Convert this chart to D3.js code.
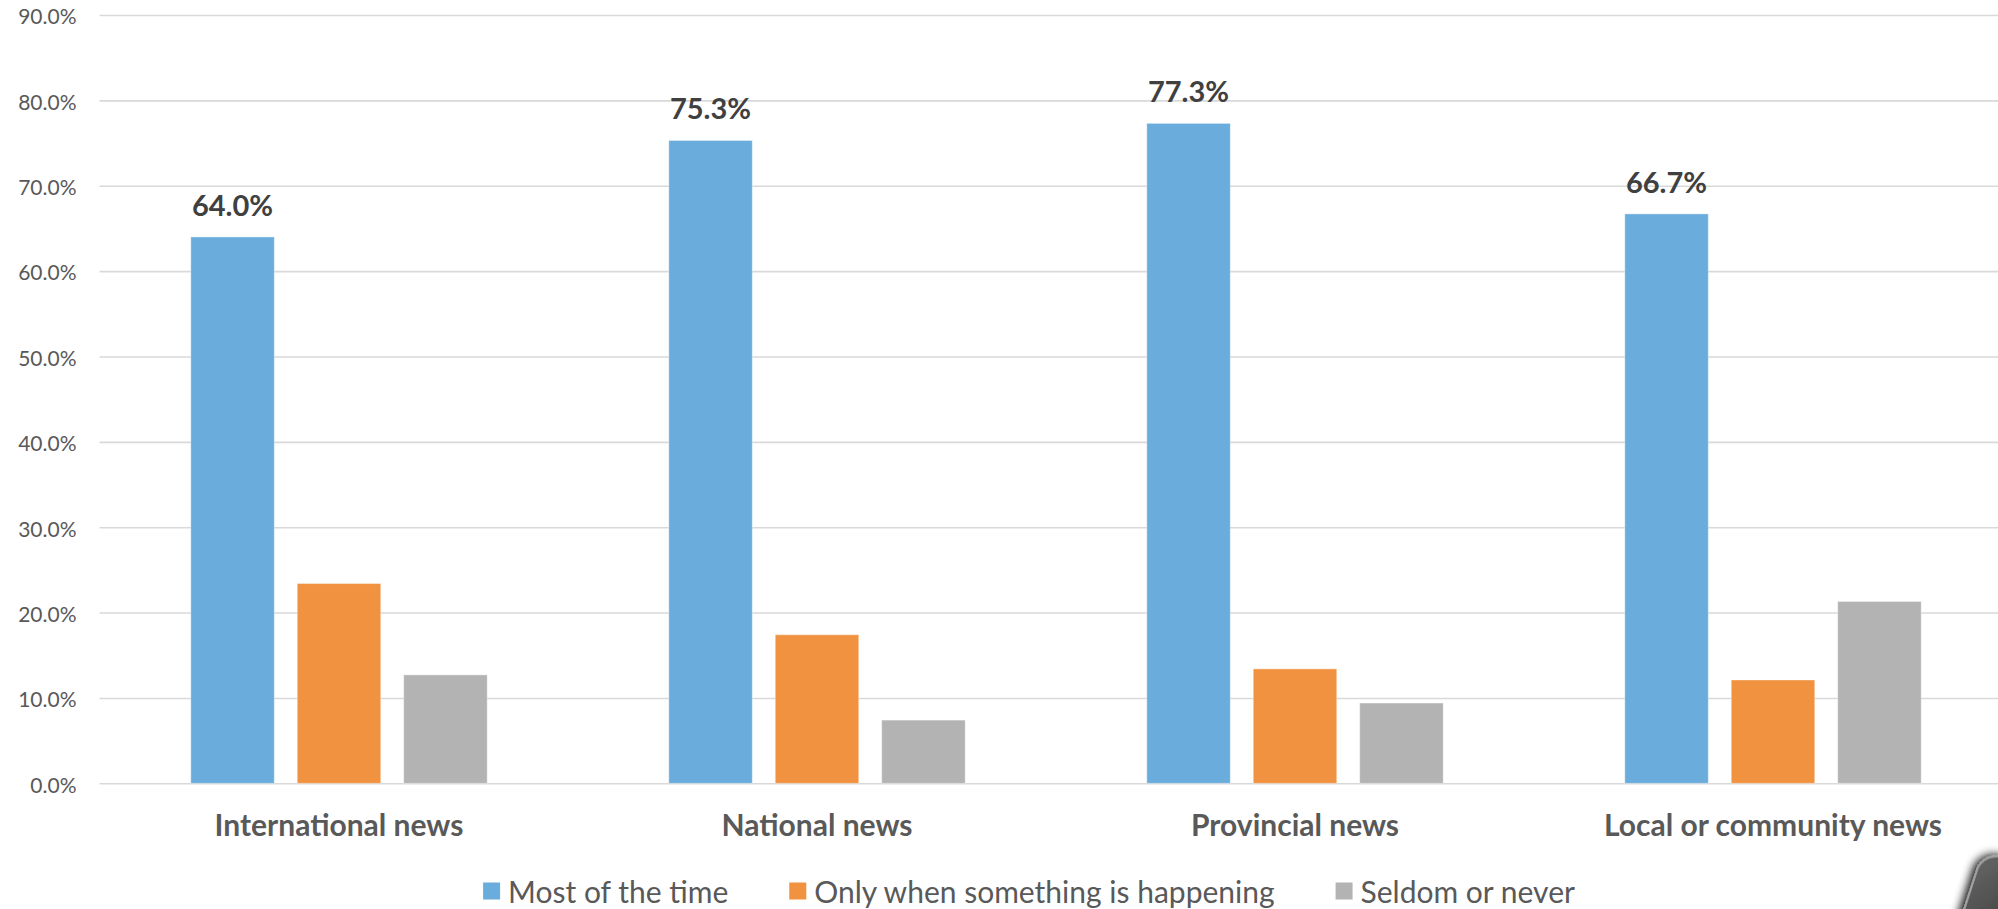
<!DOCTYPE html>
<html>
<head>
<meta charset="utf-8">
<script src="https://cdn.jsdelivr.net/npm/d3@7"></script>
<style>
  html, body { margin: 0; padding: 0; background: #ffffff; overflow: hidden; }
  svg { display: block; }
</style>
</head>
<body>
<svg id="chart" width="1998" height="909"></svg>
<script>
// News categories along the x axis
const categories = ["International news", "National news", "Provincial news", "Local or community news"];
// Series (legend order)
const seriesNames = ["Most of the time", "Only when something is happening", "Seldom or never"];
const seriesColors = ["#6aacdc", "#f19241", "#b3b3b3"];
// Percent of respondents per category
const mostOfTheTime = [64.0, 75.3, 77.3, 66.7];
const onlyWhenHappening = [23.4, 17.4, 13.4, 12.1];
const seldomOrNever = [12.7, 7.4, 9.4, 21.3];
// Y axis ticks
const yTicks = [0, 10, 20, 30, 40, 50, 60, 70, 80, 90];

const seriesValues = [mostOfTheTime, onlyWhenHappening, seldomOrNever];

const W = 1998, H = 909;
const plot = { left: 100, right: 2012, top: 15, bottom: 783.3 };
const FONT = "Lato, 'Open Sans', sans-serif";

const svg = d3.select("#chart");

const x0 = d3.scaleBand().domain(categories).range([plot.left, plot.right]).paddingInner(0).paddingOuter(0);
const bw = x0.bandwidth();
const x1 = d3.scaleBand().domain(seriesNames).range([bw * 0.19, bw * 0.81]).paddingInner(0.216);
const y = d3.scaleLinear().domain([0, 90]).range([plot.bottom, plot.top]);

// Gridlines and y tick labels
const yAxis = svg.append("g")
  .attr("transform", `translate(${plot.left - 0.5},0)`)
  .call(d3.axisLeft(y)
    .tickValues(yTicks)
    .tickFormat(d => d.toFixed(1) + "%")
    .tickSize(-(W - plot.left + 1))
    .tickPadding(23));
yAxis.select(".domain").remove();
yAxis.selectAll(".tick line").attr("stroke", "#d9d9d9").attr("stroke-width", 1.6);
yAxis.selectAll(".tick text")
  .attr("fill", "#595959")
  .attr("font-family", FONT)
  .attr("font-size", 21)
  .attr("dy", "0.42em");

// Bars
const barData = [];
categories.forEach((c, ci) => {
  seriesNames.forEach((s, si) => {
    barData.push({ cat: c, series: s, si, value: seriesValues[si][ci] });
  });
});

svg.append("g").selectAll("rect")
  .data(barData)
  .join("rect")
  .attr("x", d => x0(d.cat) + x1(d.series))
  .attr("y", d => y(d.value))
  .attr("width", x1.bandwidth())
  .attr("height", d => y(0) - y(d.value))
  .attr("fill", d => seriesColors[d.si])
  .attr("stroke", "#ffffff")
  .attr("stroke-opacity", 0.35)
  .attr("stroke-width", 1);

// Value labels on the first series
svg.append("g").selectAll("text")
  .data(categories.map((c, ci) => ({ cat: c, value: mostOfTheTime[ci] })))
  .join("text")
  .attr("x", d => x0(d.cat) + x1(seriesNames[0]) + x1.bandwidth() / 2)
  .attr("y", d => y(d.value) - 21)
  .attr("text-anchor", "middle")
  .attr("fill", "#404040")
  .attr("font-family", FONT)
  .attr("font-weight", 700)
  .attr("font-size", 29)
  .text(d => d.value.toFixed(1) + "%");

// Category axis labels
const xAxis = svg.append("g")
  .attr("transform", `translate(0,${plot.bottom})`)
  .call(d3.axisBottom(x0).tickSize(0).tickPadding(0));
xAxis.select(".domain").remove();
xAxis.selectAll(".tick text")
  .attr("y", 52.7)
  .attr("dy", 0)
  .attr("fill", "#595959")
  .attr("font-family", FONT)
  .attr("font-weight", 700)
  .attr("font-size", 30);

// Legend
const legend = svg.append("g");
const items = legend.selectAll("g")
  .data(seriesNames)
  .join("g");
items.append("rect")
  .attr("width", 17).attr("height", 17)
  .attr("y", -20.5)
  .attr("fill", (d, i) => seriesColors[i]);
items.append("text")
  .attr("x", 25)
  .attr("fill", "#595959")
  .attr("font-family", FONT)
  .attr("font-size", 30)
  .text(d => d);
let cursor = 0;
const offsets = [];
items.each(function () {
  const tw = d3.select(this).select("text").node().getComputedTextLength();
  offsets.push(cursor);
  cursor += 25 + tw + 61;
});
const legendWidth = cursor - 61;
const legendLeft = 1029 - legendWidth / 2;
items.attr("transform", (d, i) => `translate(${legendLeft + offsets[i]},903)`);

// Glossy dark knob at the lower-right corner
const defs = svg.append("defs");
const f = defs.append("filter").attr("id", "knobShadow").attr("x", "-50%").attr("y", "-50%").attr("width", "200%").attr("height", "200%");
f.append("feGaussianBlur").attr("in", "SourceAlpha").attr("stdDeviation", 5).attr("result", "blur");
f.append("feOffset").attr("in", "blur").attr("dx", -3).attr("dy", 0).attr("result", "off");
const merge = f.append("feMerge");
merge.append("feMergeNode").attr("in", "off");
merge.append("feMergeNode").attr("in", "SourceGraphic");
const grad = defs.append("linearGradient").attr("id", "knobFill").attr("x1", 0).attr("y1", 0).attr("x2", 1).attr("y2", 1);
grad.append("stop").attr("offset", "0%").attr("stop-color", "#666");
grad.append("stop").attr("offset", "100%").attr("stop-color", "#2a2a2a");
svg.append("rect")
  .attr("x", 1982).attr("y", 852)
  .attr("width", 80).attr("height", 110)
  .attr("rx", 20)
  .attr("transform", "rotate(18 1985 855)")
  .attr("fill", "url(#knobFill)")
  .attr("stroke", "#a0a0a0")
  .attr("stroke-width", 2)
  .attr("filter", "url(#knobShadow)");
</script>
</body>
</html>
